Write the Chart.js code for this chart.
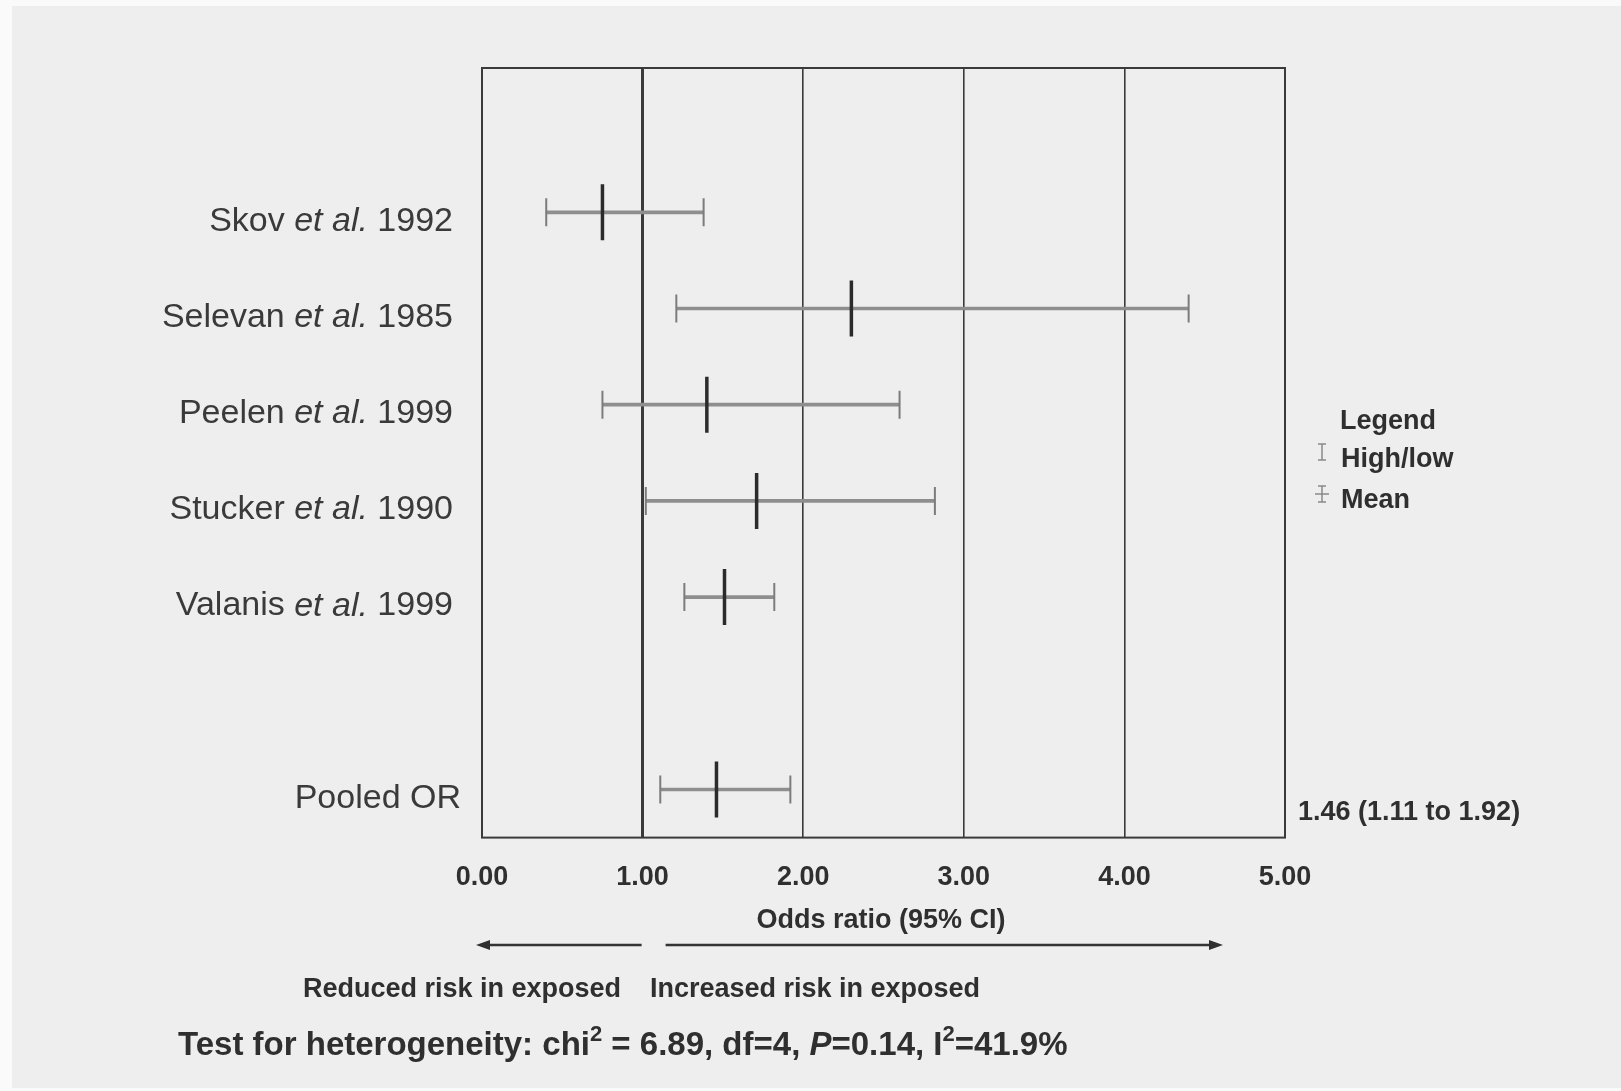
<!DOCTYPE html>
<html>
<head>
<meta charset="utf-8">
<script src="https://cdn.jsdelivr.net/npm/chart.js@4.4.1/dist/chart.umd.min.js"></script>
<style>
html, body { margin: 0; padding: 0; background: #fafafa; }
#paper { position: absolute; left: 12px; top: 6px; width: 1609px; height: 1082px; background: #eeeeee; }
#box { position: absolute; left: 0; top: 0; width: 1621px; height: 1091px; }
</style>
</head>
<body>
<div id="paper"></div>
<div id="box"><canvas id="forest"></canvas></div>
<script>
// study data
var studyNames = ['Skov', 'Selevan', 'Peelen', 'Stucker', 'Valanis'];
var studyYears = ['1992', '1985', '1999', '1990', '1999'];
var orMean = [0.75, 2.30, 1.40, 1.71, 1.51];
var orLow = [0.40, 1.21, 0.75, 1.02, 1.26];
var orHigh = [1.38, 4.40, 2.60, 2.82, 1.82];

var pooledLabel = 'Pooled OR';
var pooledMean = 1.46;
var pooledLow = 1.11;
var pooledHigh = 1.92;

var xTicks = [0, 1, 2, 3, 4, 5];

var FONT = '"Liberation Sans", Arial, sans-serif';
var INK = '#2f2f2f';

// rows of the category axis: blank row on top, studies, blank gap, pooled
var studyLabels = studyNames.map(function(n, i) { return n + ' et al. ' + studyYears[i]; });
var rowLabels = [''].concat(studyLabels, ['', pooledLabel]);

var allLabels = studyLabels.concat([pooledLabel]);
var allMean = orMean.concat([pooledMean]);
var allLow = orLow.concat([pooledLow]);
var allHigh = orHigh.concat([pooledHigh]);

var ciData = [null].concat(orLow.map(function(l, i) { return [l, orHigh[i]]; }), [null, [pooledLow, pooledHigh]]);
var capData = [];
allLabels.forEach(function(lab, i) {
    capData.push({x: allLow[i], y: lab});
    capData.push({x: allHigh[i], y: lab});
});
var meanData = allLabels.map(function(lab, i) { return {x: allMean[i], y: lab}; });

function drawParts(ctx, parts, x, y, align) {
    var w = 0;
    parts.forEach(function(p) { ctx.font = p.font; w += ctx.measureText(p.t).width; });
    var cx = align === 'right' ? x - w : (align === 'center' ? x - w / 2 : x);
    parts.forEach(function(p) {
        ctx.font = p.font;
        ctx.fillText(p.t, cx, y + (p.dy || 0));
        cx += ctx.measureText(p.t).width;
    });
}

function arrow(ctx, x1, x2, y) {
    var dir = x2 > x1 ? 1 : -1;
    ctx.beginPath();
    ctx.moveTo(x1, y);
    ctx.lineTo(x2 - dir * 8, y);
    ctx.stroke();
    ctx.beginPath();
    ctx.moveTo(x2, y);
    ctx.lineTo(x2 - dir * 14, y - 5);
    ctx.lineTo(x2 - dir * 14, y + 5);
    ctx.closePath();
    ctx.fill();
}

var extras = {
    id: 'extras',
    beforeDatasetsDraw: function(chart) {
        var ctx = chart.ctx, a = chart.chartArea;
        ctx.save();
        ctx.strokeStyle = '#3a3a3a';
        ctx.lineWidth = 2;
        ctx.strokeRect(a.left, a.top, a.right - a.left, a.bottom - a.top);
        ctx.restore();
    },
    afterDraw: function(chart) {
        var ctx = chart.ctx, a = chart.chartArea;
        var yS = chart.scales.y, xS = chart.scales.x;
        ctx.save();
        ctx.fillStyle = '#3a3a3a';
        ctx.textBaseline = 'middle';

        // study labels with italic et al.
        studyNames.forEach(function(n, i) {
            var y = yS.getPixelForValue(i + 1) + 9;
            drawParts(ctx, [
                {t: n + ' ', font: '34px ' + FONT},
                {t: 'et al.', font: 'italic 34px ' + FONT},
                {t: ' ' + studyYears[i], font: '34px ' + FONT}
            ], a.left - 29, y, 'right');
        });
        ctx.font = '34px ' + FONT;
        ctx.textAlign = 'right';
        ctx.fillText(pooledLabel, a.left - 21, yS.getPixelForValue(7) + 9);

        ctx.fillStyle = INK;
        ctx.textAlign = 'left';
        ctx.font = 'bold 27px ' + FONT;
        ctx.fillText(pooledMean.toFixed(2) + ' (' + pooledLow.toFixed(2) + ' to ' + pooledHigh.toFixed(2) + ')',
            a.right + 13, yS.getPixelForValue(7) + 23);

        // legend
        ctx.fillText('Legend', 1340, 422);
        ctx.fillText('High/low', 1341, 460);
        ctx.fillText('Mean', 1341, 501);
        ctx.strokeStyle = '#8a8a8a';
        ctx.lineWidth = 1.5;
        ctx.beginPath();
        ctx.moveTo(1318, 444); ctx.lineTo(1326, 444);
        ctx.moveTo(1322, 444); ctx.lineTo(1322, 460);
        ctx.moveTo(1318, 460); ctx.lineTo(1326, 460);
        ctx.moveTo(1318, 486); ctx.lineTo(1326, 486);
        ctx.moveTo(1322, 486); ctx.lineTo(1322, 502);
        ctx.moveTo(1315, 494); ctx.lineTo(1329, 494);
        ctx.moveTo(1318, 502); ctx.lineTo(1326, 502);
        ctx.stroke();

        // axis title and arrows
        ctx.fillStyle = INK;
        ctx.textAlign = 'center';
        ctx.font = 'bold 27px ' + FONT;
        ctx.fillText('Odds ratio (95% CI)', 881, 921);
        ctx.strokeStyle = '#333';
        ctx.lineWidth = 2.5;
        arrow(ctx, xS.getPixelForValue(1) - 1, 476, 945);
        arrow(ctx, xS.getPixelForValue(1) + 23, 1223, 945);
        ctx.fillText('Reduced risk in exposed', 462, 990);
        ctx.fillText('Increased risk in exposed', 815, 990);

        // heterogeneity line
        ctx.textAlign = 'left';
        var b = 'bold 33px ' + FONT, s = 'bold 22px ' + FONT;
        drawParts(ctx, [
            {t: 'Test for heterogeneity: chi', font: b},
            {t: '2', font: s, dy: -11},
            {t: ' = 6.89, df=4, ', font: b},
            {t: 'P', font: 'italic ' + b},
            {t: '=0.14, I', font: b},
            {t: '2', font: s, dy: -11},
            {t: '=41.9%', font: b}
        ], 178, 1046, 'left');
        ctx.restore();
    }
};

var ctx = document.getElementById('forest').getContext('2d');
new Chart(ctx, {
    type: 'bar',
    data: {
        labels: rowLabels,
        datasets: [{
            type: 'scatter',
            label: 'Mean',
            data: meanData,
            pointStyle: 'line',
            rotation: 90,
            radius: 28,
            borderWidth: 3.5,
            borderColor: '#2b2b2b',
            backgroundColor: '#2b2b2b'
        }, {
            type: 'scatter',
            label: 'High/low',
            data: capData,
            pointStyle: 'line',
            rotation: 90,
            radius: 14,
            borderWidth: 2,
            borderColor: '#7c7c7c',
            backgroundColor: '#7c7c7c'
        }, {
            type: 'bar',
            label: '95% CI',
            data: ciData,
            barThickness: 3,
            backgroundColor: '#8e8e8e',
            borderWidth: 0
        }]
    },
    options: {
        indexAxis: 'y',
        responsive: true,
        maintainAspectRatio: false,
        animation: false,
        layout: { padding: { left: 482, right: 336, top: 68, bottom: 173 } },
        plugins: {
            legend: { display: false },
            tooltip: { enabled: false }
        },
        scales: {
            x: {
                type: 'linear',
                min: xTicks[0],
                max: xTicks[xTicks.length - 1],
                afterBuildTicks: function(scale) {
                    scale.ticks = xTicks.map(function(v) { return {value: v}; });
                },
                ticks: {
                    autoSkip: false,
                    padding: 24,
                    color: INK,
                    font: { family: FONT, size: 27, weight: 'bold' },
                    callback: function(v) { return Number(v).toFixed(2); }
                },
                grid: {
                    drawTicks: false,
                    color: '#3a3a3a',
                    lineWidth: function(c) { return c.tick && c.tick.value === 1 ? 3 : 1.6; }
                },
                border: { display: false }
            },
            y: {
                type: 'category',
                labels: rowLabels,
                offset: true,
                display: false
            }
        }
    },
    plugins: [extras]
});
</script>
</body>
</html>
